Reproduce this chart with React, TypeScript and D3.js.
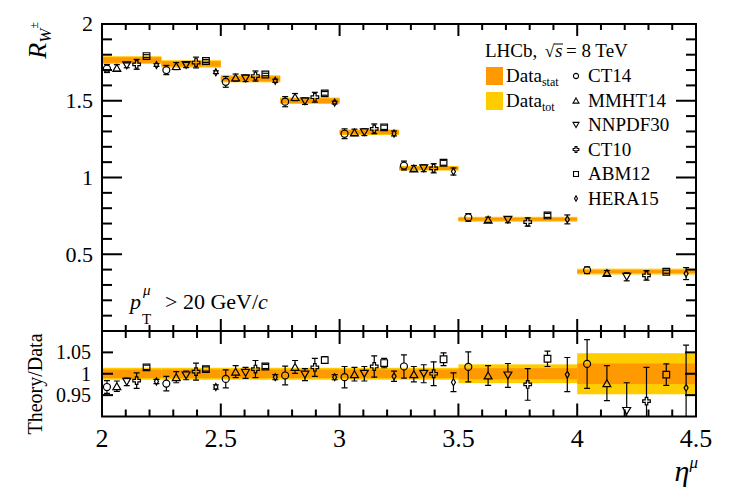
import React from 'react';
import * as d3 from 'd3';

// eta bins of the measurement
const binEdges = [2.0, 2.25, 2.5, 2.75, 3.0, 3.25, 3.5, 4.0, 4.5];

// measured charge ratio R_W and its uncertainties (absolute, upper panel)
const dataR = [1.765, 1.74, 1.643, 1.5, 1.295, 1.06, 0.728, 0.387];
const dataStat = [0.018, 0.017, 0.016, 0.015, 0.013, 0.011, 0.009, 0.009];
const dataTot = [0.025, 0.024, 0.023, 0.021, 0.018, 0.015, 0.016, 0.019];

// relative uncertainties (lower panel)
const ratioStat = [0.01, 0.01, 0.01, 0.01, 0.01, 0.01, 0.013, 0.024];
const ratioTot = [0.014, 0.014, 0.014, 0.014, 0.014, 0.014, 0.022, 0.048];

const theoryNames = ['CT14', 'MMHT14', 'NNPDF30', 'CT10', 'ABM12', 'HERA15'];

// predictions, one row per PDF set
const theoryR = [
  [1.71, 1.7, 1.623, 1.494, 1.285, 1.078, 0.74, 0.396],
  [1.714, 1.726, 1.651, 1.524, 1.294, 1.059, 0.725, 0.378],
  [1.731, 1.733, 1.646, 1.497, 1.295, 1.06, 0.725, 0.353],
  [1.737, 1.749, 1.661, 1.523, 1.317, 1.06, 0.71, 0.362],
  [1.791, 1.759, 1.671, 1.548, 1.327, 1.096, 0.753, 0.386],
  [1.733, 1.686, 1.63, 1.488, 1.287, 1.039, 0.727, 0.374],
];
const theoryErr = [
  [0.026, 0.03, 0.035, 0.033, 0.032, 0.029, 0.025, 0.022],
  [0.021, 0.023, 0.023, 0.023, 0.021, 0.019, 0.017, 0.016],
  [0.016, 0.017, 0.021, 0.021, 0.022, 0.022, 0.02, 0.026],
  [0.032, 0.035, 0.033, 0.032, 0.032, 0.03, 0.027, 0.031],
  [0.009, 0.009, 0.008, 0.012, 0.014, 0.016, 0.013, 0.01],
  [0.009, 0.009, 0.01, 0.009, 0.016, 0.023, 0.029, 0.039],
];

// theory / data
const ratio = [
  [0.969, 0.977, 0.988, 0.996, 0.992, 1.017, 1.016, 1.023],
  [0.971, 0.992, 1.005, 1.016, 0.999, 0.999, 0.996, 0.978],
  [0.981, 0.996, 1.002, 0.998, 1.0, 1.0, 0.996, 0.913],
  [0.984, 1.005, 1.011, 1.015, 1.017, 1.0, 0.975, 0.936],
  [1.015, 1.011, 1.017, 1.032, 1.025, 1.034, 1.035, 0.998],
  [0.982, 0.969, 0.992, 0.992, 0.994, 0.98, 0.998, 0.967],
];
const ratioErr = [
  [0.015, 0.017, 0.021, 0.022, 0.025, 0.027, 0.035, 0.057],
  [0.012, 0.013, 0.014, 0.015, 0.016, 0.018, 0.023, 0.041],
  [0.009, 0.01, 0.013, 0.014, 0.017, 0.021, 0.028, 0.066],
  [0.018, 0.02, 0.02, 0.021, 0.025, 0.028, 0.037, 0.079],
  [0.005, 0.005, 0.005, 0.008, 0.011, 0.015, 0.018, 0.025],
  [0.005, 0.005, 0.006, 0.006, 0.012, 0.022, 0.04, 0.1],
];

const botMajor = [0.95, 1, 1.05];

const W = 732;
const H = 496;
const left = 102;
const right = 696;
const top0 = 24;
const mid = 331;
const bot1 = 416.5;

const font = '"Liberation Serif", "Times New Roman", serif';
const ORANGE = '#ff9900';
const YELLOW = '#ffcc00';

const x = d3.scaleLinear().domain([2, 4.5]).range([left, right]);
const yTop = d3.scaleLinear().domain([0, 2]).range([mid, top0]);
const yBot = d3.scaleLinear().domain([0.9, 1.1]).range([bot1, mid]);

const symTypes = [d3.symbolCircle, d3.symbolTriangle, d3.symbolTriangle, d3.symbolCross, d3.symbolSquare, d3.symbolDiamond];
const symSizes = [38, 27, 27, 32, 44, 14];
const halfH = [3.5, 3.5, 3.5, 3.8, 3.3, 3.5];

function markerPath(i: number, s = 1) {
  return d3.symbol().type(symTypes[i]).size(symSizes[i] * s * s)() as string;
}
function markerTransform(i: number, cx: number, cy: number, s = 1) {
  if (i === 1) return `translate(${cx},${cy + 1.17 * s})`;
  if (i === 2) return `translate(${cx},${cy - 1.17 * s}) rotate(180)`;
  return `translate(${cx},${cy})`;
}

function pointX(t: number, b: number) {
  const lo = binEdges[b];
  const hi = binEdges[b + 1];
  return x(lo + ((t + 0.5) * (hi - lo)) / 6);
}

function Point({ t, cx, cy, yHi, yLo }: { t: number; cx: number; cy: number; yHi: number; yLo: number }) {
  const hh = halfH[t];
  return (
    <g stroke="#000" strokeWidth={1.2} fill="none">
      {cy - yHi > hh && <line x1={cx} x2={cx} y1={yHi} y2={cy - hh} />}
      {yLo - cy > hh && <line x1={cx} x2={cx} y1={cy + hh} y2={yLo} />}
      <line x1={cx - 3} x2={cx + 3} y1={yHi} y2={yHi} />
      <line x1={cx - 3} x2={cx + 3} y1={yLo} y2={yLo} />
      <path d={markerPath(t)} transform={markerTransform(t, cx, cy)} />
    </g>
  );
}

export default function App() {
  const xMinor = x.ticks(25);
  const xMajor = x.ticks(5);
  const yMinor = yTop.ticks(20);
  const yMajor = yTop.ticks(4);
  const fmt = (v: number) => String(+v.toFixed(2));

  const bins = d3.range(binEdges.length - 1);

  return (
    <svg width={W} height={H} style={{ position: 'absolute', left: 0, top: 0, background: '#fff' }} fontFamily={font}>
      <defs>
        <clipPath id="clipTop">
          <rect x={left} y={top0} width={right - left} height={mid - top0} />
        </clipPath>
        <clipPath id="clipBot">
          <rect x={left} y={mid} width={right - left} height={bot1 - mid} />
        </clipPath>
      </defs>

      {/* upper panel: data bands */}
      <g clipPath="url(#clipTop)">
        {bins.map((b) => (
          <g key={b}>
            <rect x={x(binEdges[b])} width={x(binEdges[b + 1]) - x(binEdges[b])} y={yTop(dataR[b] + dataTot[b])} height={yTop(dataR[b] - dataTot[b]) - yTop(dataR[b] + dataTot[b])} fill={YELLOW} />
            <rect x={x(binEdges[b])} width={x(binEdges[b + 1]) - x(binEdges[b])} y={yTop(dataR[b] + dataStat[b])} height={yTop(dataR[b] - dataStat[b]) - yTop(dataR[b] + dataStat[b])} fill={ORANGE} />
          </g>
        ))}
        {theoryNames.map((n, t) =>
          bins.map((b) => (
            <Point key={n + b} t={t} cx={pointX(t, b)} cy={yTop(theoryR[t][b])} yHi={yTop(theoryR[t][b] + theoryErr[t][b])} yLo={yTop(theoryR[t][b] - theoryErr[t][b])} />
          ))
        )}
      </g>

      {/* lower panel: ratio */}
      <g clipPath="url(#clipBot)">
        {bins.map((b) => (
          <g key={b}>
            <rect x={x(binEdges[b])} width={x(binEdges[b + 1]) - x(binEdges[b])} y={yBot(1 + ratioTot[b])} height={yBot(1 - ratioTot[b]) - yBot(1 + ratioTot[b])} fill={YELLOW} />
            <rect x={x(binEdges[b])} width={x(binEdges[b + 1]) - x(binEdges[b])} y={yBot(1 + ratioStat[b])} height={yBot(1 - ratioStat[b]) - yBot(1 + ratioStat[b])} fill={ORANGE} />
          </g>
        ))}
        {theoryNames.map((n, t) =>
          bins.map((b) => (
            <Point key={n + b} t={t} cx={pointX(t, b)} cy={yBot(ratio[t][b])} yHi={yBot(ratio[t][b] + ratioErr[t][b])} yLo={yBot(ratio[t][b] - ratioErr[t][b])} />
          ))
        )}
      </g>

      {/* frames and ticks */}
      <g stroke="#000" strokeWidth={2} fill="none">
        <rect x={left} y={top0} width={right - left} height={mid - top0} />
        <rect x={left} y={mid} width={right - left} height={bot1 - mid} />
        {yMinor.map((v) => {
          const L = yMajor.some((m) => Math.abs(m - v) < 1e-9) ? 20 : 10;
          return (
            <g key={'y' + v}>
              <line x1={left} x2={left + L} y1={yTop(v)} y2={yTop(v)} />
              <line x1={right} x2={right - L} y1={yTop(v)} y2={yTop(v)} />
            </g>
          );
        })}
        {botMajor.map((v) => (
          <g key={'yb' + v}>
            <line x1={left} x2={left + 11} y1={yBot(v)} y2={yBot(v)} />
            <line x1={right} x2={right - 11} y1={yBot(v)} y2={yBot(v)} />
          </g>
        ))}
        {xMinor.map((v) => {
          const major = xMajor.some((m) => Math.abs(m - v) < 1e-9);
          const Lt = major ? 12 : 6;
          const Lb = major ? 13 : 7;
          return (
            <g key={'x' + v}>
              <line x1={x(v)} x2={x(v)} y1={top0} y2={top0 + Lt} />
              <line x1={x(v)} x2={x(v)} y1={mid} y2={mid - Lt} />
              <line x1={x(v)} x2={x(v)} y1={mid} y2={mid + Lb} />
              <line x1={x(v)} x2={x(v)} y1={bot1} y2={bot1 - Lb} />
            </g>
          );
        })}
      </g>

      {/* tick labels */}
      <g fontSize={22} fill="#000">
        {yMajor.filter((v) => v > 0).map((v) => (
          <text key={'ly' + v} x={93} y={yTop(v)} dy="0.34em" textAnchor="end">{fmt(v)}</text>
        ))}
      </g>
      <g fontSize={20} fill="#000">
        {botMajor.map((v) => (
          <text key={'lb' + v} x={91} y={yBot(v)} dy="0.34em" textAnchor="end">{fmt(v)}</text>
        ))}
      </g>
      <g fontSize={26} fill="#000">
        {xMajor.map((v) => (
          <text key={'lx' + v} x={x(v)} y={447} textAnchor="middle">{fmt(v)}</text>
        ))}
      </g>

      {/* axis titles */}
      <text transform="translate(46,22) rotate(-90)" textAnchor="end" fill="#000">
        <tspan fontStyle="italic" fontSize={26}>R</tspan>
        <tspan fontStyle="italic" fontSize={17} dy={5}>W</tspan>
        <tspan fontSize={12} dy={-13}>±</tspan>
      </text>
      <text transform="translate(42,384) rotate(-90)" textAnchor="middle" fontSize={20} fill="#000">Theory/Data</text>
      <text x={698} y={481} textAnchor="end" fill="#000">
        <tspan fontStyle="italic" fontSize={30}>η</tspan>
        <tspan fontStyle="italic" fontSize={17} dy={-13}>μ</tspan>
      </text>

      {/* kinematic cut */}
      <g fill="#000">
        <text x={130} y={309} fontSize={22} fontStyle="italic">p</text>
        <text x={143} y={295} fontSize={15} fontStyle="italic">μ</text>
        <text x={142} y={324} fontSize={15}>T</text>
        <text x={165} y={309} fontSize={22}>
          {'> 20 GeV/'}
          <tspan fontStyle="italic">c</tspan>
        </text>
      </g>

      {/* legend */}
      <g fill="#000" fontSize={19}>
        <text x={485} y={57}>LHCb,</text>
        <text x={545} y={57} fontSize={17}>√</text>
        <text x={555} y={57} fontStyle="italic">s</text>
        <line x1={554} x2={563} y1={44} y2={44} stroke="#000" strokeWidth={1} />
        <text x={566} y={57}>= 8 TeV</text>
        <rect x={486} y={67} width={17} height={18} fill={ORANGE} />
        <rect x={486} y={92} width={17} height={18} fill={YELLOW} />
        <text x={506} y={82}>
          Data<tspan fontSize={12} dy={4}>stat</tspan>
        </text>
        <text x={506} y={106.5}>
          Data<tspan fontSize={12} dy={4}>tot</tspan>
        </text>
        {theoryNames.map((n, t) => {
          const by = 82 + t * 24.5;
          return (
            <g key={n}>
              <path d={markerPath(t, 0.75)} transform={markerTransform(t, 576, by - 6, 0.75)} fill="none" stroke="#000" strokeWidth={1.1} />
              <text x={588} y={by}>{n}</text>
            </g>
          );
        })}
      </g>
    </svg>
  );
}
